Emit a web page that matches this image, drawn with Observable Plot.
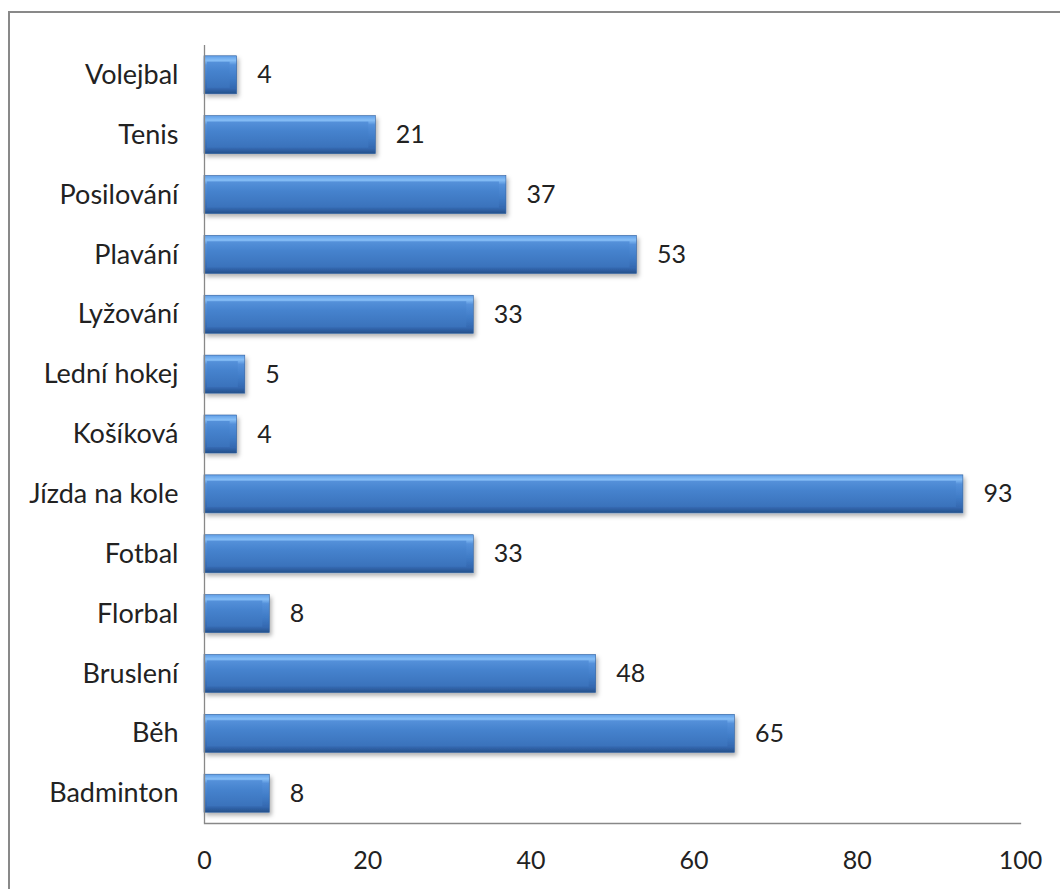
<!DOCTYPE html>
<html><head><meta charset="utf-8">
<script src="https://cdn.jsdelivr.net/npm/d3@7"></script>
<script src="https://cdn.jsdelivr.net/npm/@observablehq/plot@0.6"></script>
<style>
html,body{margin:0;padding:0;background:#fff;overflow:hidden;}
#wrap{position:relative;width:1060px;height:889px;overflow:hidden;}
#border{position:absolute;left:8px;top:11px;width:1200px;height:1000px;border:2px solid #898989;}
#chart{position:absolute;left:0;top:0;}
</style></head><body>
<div id="wrap"><div id="border"></div><div id="chart"></div></div>
<script>
const categories = ["Volejbal","Tenis","Posilování","Plavání","Lyžování","Lední hokej","Košíková","Jízda na kole","Fotbal","Florbal","Bruslení","Běh","Badminton"];
const values = [4,21,37,53,33,5,4,93,33,8,48,65,8];
const xTicks = [0,20,40,60,80,100];
const data = categories.map((c,i)=>({sport:c, value:values[i]}));

const plot = Plot.plot({
  width:1060, height:889,
  marginLeft:204, marginRight:40, marginTop:45, marginBottom:66,
  style:{fontFamily:"Lato, 'Open Sans', sans-serif", fontSize:"25px", color:"#222", background:"transparent", overflow:"visible"},
  x:{domain:[0,100], label:null},
  y:{domain:categories, label:null, paddingInner:0.365, paddingOuter:0.18, round:false},
  marks:[
    Plot.axisX({ticks:xTicks, tickSize:0, tickPadding:28, fontSize:25, label:null}),
    Plot.axisY({tickSize:0, tickPadding:26, fontSize:27, label:null}),
    Plot.barX(data,{x:"value", y:"sport", fill:"url(#barGrad)", stroke:"#2f5f9e", strokeWidth:0.6}),
    Plot.barX(data,{x:"value", y:"sport", fill:"url(#faceGrad)", insetTop:6, insetBottom:6, insetRight:7, insetLeft:3}),
    Plot.ruleX([0],{stroke:"#888", strokeWidth:1.3}),
    Plot.frame({anchor:"bottom", stroke:"#888", strokeWidth:1.3}),
    Plot.text(data,{x:"value", y:"sport", text:d=>String(d.value), textAnchor:"start", dx:20, fontSize:25, fill:"#222"})
  ]
});
document.getElementById("chart").appendChild(plot);

const svg = d3.select(plot);
const defs = svg.insert("defs",":first-child");
const g1 = defs.append("linearGradient").attr("id","barGrad").attr("x1",0).attr("y1",0).attr("x2",0).attr("y2",1);
[[0,"#5f9de6"],[0.12,"#86bef6"],[0.24,"#5490da"],[0.6,"#3f7bc6"],[0.86,"#3468b0"],[1,"#24508a"]]
  .forEach(([o,c])=>g1.append("stop").attr("offset",o).attr("stop-color",c));
const g2 = defs.append("linearGradient").attr("id","faceGrad").attr("x1",0).attr("y1",0).attr("x2",0).attr("y2",1);
[[0,"#5591da"],[0.35,"#4683ce"],[1,"#3a72bb"]]
  .forEach(([o,c])=>g2.append("stop").attr("offset",o).attr("stop-color",c));
const f = defs.append("filter").attr("id","shadow").attr("x","-10%").attr("y","-30%").attr("width","130%").attr("height","190%");
f.append("feDropShadow").attr("dx",2).attr("dy",3).attr("stdDeviation",2).attr("flood-color","#000").attr("flood-opacity",0.3);
const barGroups = svg.selectAll("g[aria-label='bar']");
barGroups.filter((d,i)=>i===0).attr("filter","url(#shadow)");
</script>
</body></html>
